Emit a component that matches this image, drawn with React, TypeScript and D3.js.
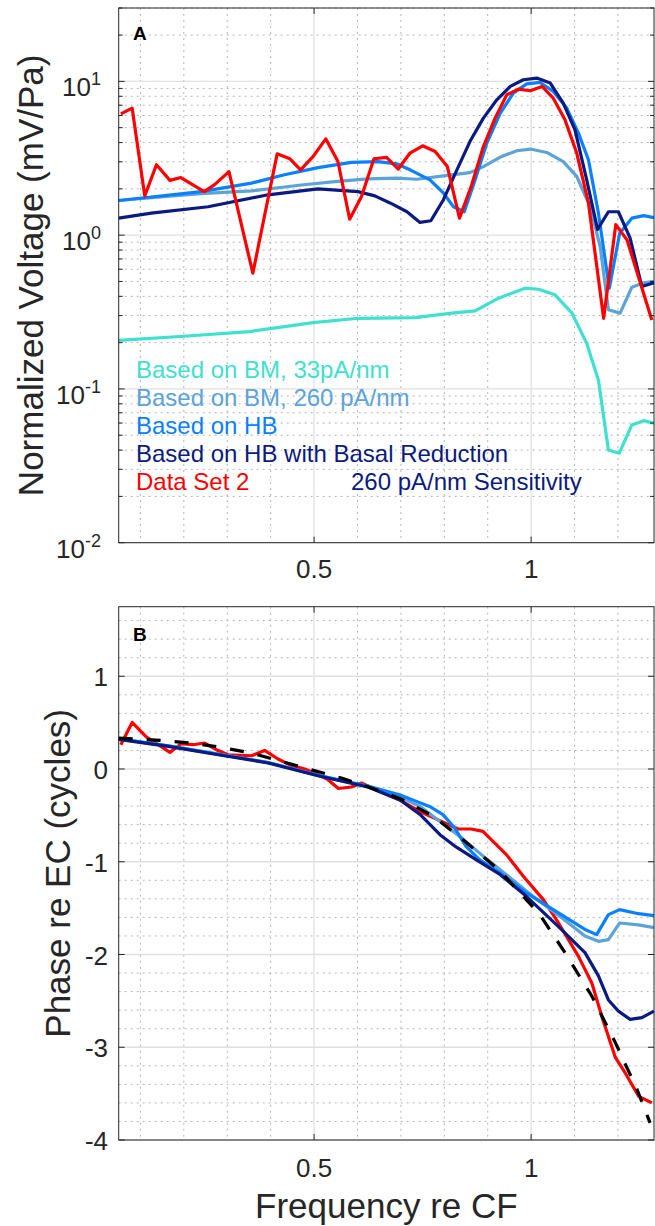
import React from "react";
import * as d3 from "d3";

// frequency re CF, tick labels
const freqTicks = [0.5, 1];
const ampTickExps = [-2, -1, 0, 1];
const phaseTicks = [-4, -3, -2, -1, 0, 1];

// Panel A: normalized voltage (mV/Pa), [freq, value]
const ampBM33 = [
  [0.05, 0.207], [0.2, 0.22], [0.352, 0.236], [0.498, 0.27], [0.602, 0.288], [0.733, 0.291],
  [0.817, 0.311], [0.871, 0.322], [0.925, 0.389], [0.986, 0.452], [1.017, 0.445], [1.055, 0.409],
  [1.094, 0.311], [1.128, 0.198], [1.155, 0.114], [1.178, 0.0401], [1.203, 0.0382], [1.232, 0.0583],
  [1.259, 0.0622], [1.283, 0.0598],
];
const ampBM260 = [
  [0.05, 1.68], [0.125, 1.75], [0.24, 1.86], [0.356, 1.94], [0.471, 2.12], [0.548, 2.23],
  [0.624, 2.32], [0.69, 2.35], [0.737, 2.31], [0.798, 2.43], [0.859, 2.55], [0.89, 2.79],
  [0.929, 3.22], [0.967, 3.54], [0.998, 3.63], [1.036, 3.45], [1.074, 3.01], [1.105, 2.41],
  [1.136, 1.53], [1.159, 0.843], [1.178, 0.327], [1.205, 0.311], [1.232, 0.459], [1.259, 0.49],
  [1.283, 0.5],
];
const ampHB = [
  [0.05, 1.68], [0.125, 1.77], [0.24, 1.92], [0.356, 2.18], [0.432, 2.47], [0.509, 2.75],
  [0.586, 2.97], [0.647, 3.01], [0.69, 2.91], [0.721, 2.66], [0.767, 2.29], [0.798, 1.88],
  [0.821, 1.53], [0.846, 1.42], [0.871, 2.29], [0.898, 3.97], [0.929, 6.22], [0.959, 8.39],
  [0.99, 9.64], [1.021, 9.84], [1.051, 8.6], [1.082, 6.7], [1.109, 4.61], [1.132, 3.09],
  [1.155, 1.39], [1.18, 0.452], [1.204, 1.03], [1.232, 1.29], [1.259, 1.34], [1.283, 1.3],
];
const ampHBBasal = [
  [0.05, 1.29], [0.125, 1.39], [0.256, 1.53], [0.394, 1.83], [0.509, 2.0], [0.601, 1.92],
  [0.64, 1.8], [0.675, 1.62], [0.714, 1.42], [0.744, 1.21], [0.769, 1.24], [0.798, 1.7],
  [0.829, 2.66], [0.859, 4.06], [0.89, 5.77], [0.921, 7.59], [0.952, 9.27], [0.982, 10.24],
  [1.013, 10.5], [1.044, 9.75], [1.074, 7.22], [1.101, 4.84], [1.128, 2.29], [1.153, 1.09],
  [1.178, 1.42], [1.201, 1.42], [1.228, 0.955], [1.255, 0.463], [1.283, 0.49],
];
const ampData2 = [
  [0.055, 6.15], [0.081, 6.7], [0.11, 1.8], [0.137, 2.87], [0.168, 2.27], [0.193, 2.37],
  [0.247, 1.92], [0.271, 2.13], [0.304, 2.59], [0.359, 0.566], [0.415, 3.38], [0.444, 3.14],
  [0.469, 2.66], [0.498, 3.25], [0.527, 4.23], [0.555, 3.01], [0.582, 1.27], [0.609, 1.78],
  [0.638, 3.14], [0.667, 3.2], [0.694, 2.69], [0.721, 3.42], [0.75, 3.81], [0.779, 3.5],
  [0.807, 2.79], [0.835, 1.29], [0.863, 2.12], [0.89, 3.77], [0.917, 5.77], [0.944, 8.18],
  [0.971, 8.91], [0.998, 8.69], [1.025, 9.27], [1.051, 7.78], [1.078, 5.62], [1.105, 3.42],
  [1.132, 1.62], [1.167, 0.288], [1.195, 1.17], [1.221, 0.93], [1.247, 0.538], [1.278, 0.281],
];

// Panel B: phase re EC (cycles), [freq, value]
const phBM260 = [
  [0.05, 0.325], [0.164, 0.25], [0.279, 0.16], [0.394, 0.07], [0.509, -0.068], [0.624, -0.19],
  [0.697, -0.3], [0.744, -0.403], [0.79, -0.565], [0.836, -0.726], [0.89, -0.942], [0.943, -1.139],
  [1.004, -1.373], [1.066, -1.588], [1.124, -1.8], [1.155, -1.858], [1.178, -1.84], [1.204, -1.66],
  [1.247, -1.68], [1.283, -1.71],
];
const phHB = [
  [0.05, 0.325], [0.164, 0.25], [0.279, 0.16], [0.394, 0.07], [0.509, -0.068], [0.624, -0.185],
  [0.697, -0.277], [0.736, -0.349], [0.766, -0.403], [0.797, -0.492], [0.824, -0.636], [0.85, -0.834],
  [0.881, -0.977], [0.929, -1.121], [0.989, -1.336], [1.063, -1.55], [1.124, -1.73], [1.151, -1.786],
  [1.178, -1.57], [1.204, -1.516], [1.247, -1.56], [1.283, -1.58],
];
const phHBBasal = [
  [0.05, 0.32], [0.164, 0.244], [0.279, 0.154], [0.394, 0.065], [0.509, -0.072], [0.624, -0.194],
  [0.697, -0.331], [0.744, -0.49], [0.79, -0.708], [0.827, -0.84], [0.873, -0.977], [0.929, -1.139],
  [0.989, -1.373], [1.063, -1.7], [1.124, -1.98], [1.155, -2.23], [1.178, -2.49], [1.201, -2.61],
  [1.228, -2.7], [1.255, -2.68], [1.283, -2.61],
];
const phData2 = [
  [0.055, 0.262], [0.081, 0.502], [0.114, 0.345], [0.141, 0.262], [0.168, 0.179], [0.194, 0.273],
  [0.221, 0.262], [0.248, 0.28], [0.275, 0.208], [0.302, 0.154], [0.356, 0.143], [0.386, 0.2],
  [0.417, 0.108], [0.448, 0.036], [0.479, 0.0], [0.509, -0.061], [0.532, -0.115], [0.556, -0.21],
  [0.586, -0.194], [0.609, -0.151], [0.65, -0.24], [0.7, -0.34], [0.74, -0.45], [0.777, -0.53],
  [0.832, -0.647], [0.862, -0.647], [0.889, -0.672], [0.943, -0.923], [0.982, -1.157],
  [1.028, -1.408], [1.063, -1.66], [1.109, -2.02], [1.14, -2.31], [1.163, -2.67], [1.194, -3.11],
  [1.217, -3.28], [1.248, -3.53], [1.278, -3.6],
];
const phFit = [
  [0.05, 0.334], [0.148, 0.308], [0.217, 0.28], [0.286, 0.233], [0.356, 0.172], [0.425, 0.082],
  [0.494, -0.008], [0.563, -0.097], [0.632, -0.205], [0.699, -0.32], [0.775, -0.51], [0.852, -0.797],
  [0.929, -1.1], [0.967, -1.3], [1.017, -1.55], [1.078, -1.98], [1.14, -2.45], [1.194, -2.95],
  [1.244, -3.456], [1.274, -3.815],
];

const legendLabels = [
  "Based on BM, 33pA/nm",
  "Based on BM, 260 pA/nm",
  "Based on HB",
  "Based on HB with Basal Reduction",
  "Data Set 2",
];
const legendColors = ["#40E0D0", "#5CA3D8", "#0A80FF", "#0A1A80", "#FF0000"];

const FONT = "'Liberation Sans', Arial, Helvetica, sans-serif";
const AX = "#262626";

const W = 655;
const H = 1226;
const L = 118.7;
const R = 654;
const A_TOP = 8;
const A_BOT = 542.7;
const B_TOP = 606.7;
const B_BOT = 1140;

export default function App() {
  const x = d3.scaleLinear().domain([0.05, 1.283]).range([L, R]);
  const yA = d3.scaleLog().domain([0.01, 30]).range([A_BOT, A_TOP]);
  const yB = d3.scaleLinear().domain([-4, 1.75]).range([B_BOT, B_TOP]);

  const lineA = d3.line<number[]>().x((d) => x(d[0])).y((d) => yA(d[1]));
  const lineB = d3.line<number[]>().x((d) => x(d[0])).y((d) => yB(d[1]));

  // minor grid positions
  const xMinor = d3.range(1, 13).map((i) => i / 10).filter((v) => v !== 0.5 && v !== 1);
  const aMinor: number[] = [];
  [-2, -1, 0, 1].forEach((e) => {
    for (let m = 2; m <= 9; m++) {
      const v = m * Math.pow(10, e);
      if (v <= 30) aMinor.push(v);
    }
  });
  const bMinor = d3.range(-20, 9).map((i) => i / 5).filter((v) => Math.abs(v - Math.round(v)) > 1e-6);

  const minorStyle = { stroke: "#b5b5b5", strokeWidth: 1, strokeDasharray: "2,4" };
  const majorStyle = { stroke: "#e0e0e0", strokeWidth: 1.3 };

  const grid = (top: number, bot: number, yMinorPx: number[], yMajorPx: number[]) => (
    <g>
      {xMinor.map((v) => (
        <line key={"xm" + v} x1={x(v)} x2={x(v)} y1={top} y2={bot} {...minorStyle} />
      ))}
      {yMinorPx.map((p, i) => (
        <line key={"ym" + i} x1={L} x2={R} y1={p} y2={p} {...minorStyle} />
      ))}
      {freqTicks.map((v) => (
        <line key={"xM" + v} x1={x(v)} x2={x(v)} y1={top} y2={bot} {...majorStyle} />
      ))}
      {yMajorPx.map((p, i) => (
        <line key={"yM" + i} x1={L} x2={R} y1={p} y2={p} {...majorStyle} />
      ))}
    </g>
  );

  const frame = (top: number, bot: number, yMajorPx: number[], yMinorPx: number[]) => (
    <g stroke={AX} strokeWidth={1}>
      <rect x={L} y={top} width={R - L} height={bot - top} fill="none" />
      {yMajorPx.map((p, i) => (
        <g key={"t" + i}>
          <line x1={L} x2={L + 6} y1={p} y2={p} />
          <line x1={R} x2={R - 6} y1={p} y2={p} />
        </g>
      ))}
      {yMinorPx.map((p, i) => (
        <g key={"tm" + i}>
          <line x1={L} x2={L + 4} y1={p} y2={p} />
          <line x1={R} x2={R - 4} y1={p} y2={p} />
        </g>
      ))}
      {freqTicks.map((v) => (
        <g key={"xt" + v}>
          <line x1={x(v)} x2={x(v)} y1={bot} y2={bot - 6} />
          <line x1={x(v)} x2={x(v)} y1={top} y2={top + 6} />
        </g>
      ))}
    </g>
  );

  const aMajorPx = ampTickExps.map((e) => yA(Math.pow(10, e)));
  const aMinorPx = aMinor.map((v) => yA(v));
  const bMajorPx = phaseTicks.map((v) => yB(v));
  const bMinorPx = bMinor.map((v) => yB(v));

  const path = (d: string | null, color: string, extra: any = {}) => (
    <path d={d || ""} fill="none" stroke={color} strokeWidth={3.2} strokeLinejoin="round" {...extra} />
  );

  return (
    <svg width={W} height={H} style={{ position: "absolute", left: 0, top: 0, display: "block", background: "#fff" }} fontFamily={FONT}>
      <rect width={W} height={H} fill="#fff" />

      {/* Panel A */}
      {grid(A_TOP, A_BOT, aMinorPx, aMajorPx)}
      <g>
        {path(lineA(ampBM33), legendColors[0])}
        {path(lineA(ampBM260), legendColors[1])}
        {path(lineA(ampHB), legendColors[2])}
        {path(lineA(ampHBBasal), legendColors[3])}
        {path(lineA(ampData2), legendColors[4])}
      </g>
      {frame(A_TOP, A_BOT, aMajorPx, aMinorPx)}
      {ampTickExps.map((e) => (
        <text key={"al" + e} x={101} y={yA(Math.pow(10, e)) + 15} textAnchor="end" fontSize={26} fill={AX}>
          <tspan>10</tspan>
          <tspan dy={-11} fontSize={18}>{String(e)}</tspan>
        </text>
      ))}
      {freqTicks.map((v) => (
        <text key={"axl" + v} x={x(v)} y={578} textAnchor="middle" fontSize={26} fill={AX}>
          {String(v)}
        </text>
      ))}
      <text transform={`translate(43,${(A_TOP + A_BOT) / 2}) rotate(-90)`} textAnchor="middle" fontSize={35} fill={AX}>
        Normalized Voltage (mV/Pa)
      </text>
      <text x={133} y={40} fontSize={19} fontWeight="bold" fill="#000">A</text>
      {legendLabels.map((t, i) => (
        <text key={t} x={136} y={378 + i * 28} fontSize={24} fill={legendColors[i]}>
          {t}
        </text>
      ))}
      <text x={351} y={490} fontSize={24} fill={legendColors[3]}>260 pA/nm Sensitivity</text>

      {/* Panel B */}
      {grid(B_TOP, B_BOT, bMinorPx, bMajorPx)}
      <g>
        {path(lineB(phData2), legendColors[4])}
        {path(lineB(phBM260), legendColors[1])}
        {path(lineB(phHB), legendColors[2])}
        {path(lineB(phHBBasal), legendColors[3])}
        {path(lineB(phFit), "#000", { strokeDasharray: "14,14" })}
      </g>
      {frame(B_TOP, B_BOT, bMajorPx, [])}
      {phaseTicks.map((v) => (
        <text key={"bl" + v} x={108} y={yB(v) + 10} textAnchor="end" fontSize={26} fill={AX}>
          {String(v)}
        </text>
      ))}
      {freqTicks.map((v) => (
        <text key={"bxl" + v} x={x(v)} y={1177} textAnchor="middle" fontSize={26} fill={AX}>
          {String(v)}
        </text>
      ))}
      <text transform={`translate(70,${(B_TOP + B_BOT) / 2}) rotate(-90)`} textAnchor="middle" fontSize={35} fill={AX}>
        Phase re EC (cycles)
      </text>
      <text x={(L + R) / 2} y={1218} textAnchor="middle" fontSize={35} fill={AX}>
        Frequency re CF
      </text>
      <text x={133} y={641} fontSize={19} fontWeight="bold" fill="#000">B</text>
    </svg>
  );
}
